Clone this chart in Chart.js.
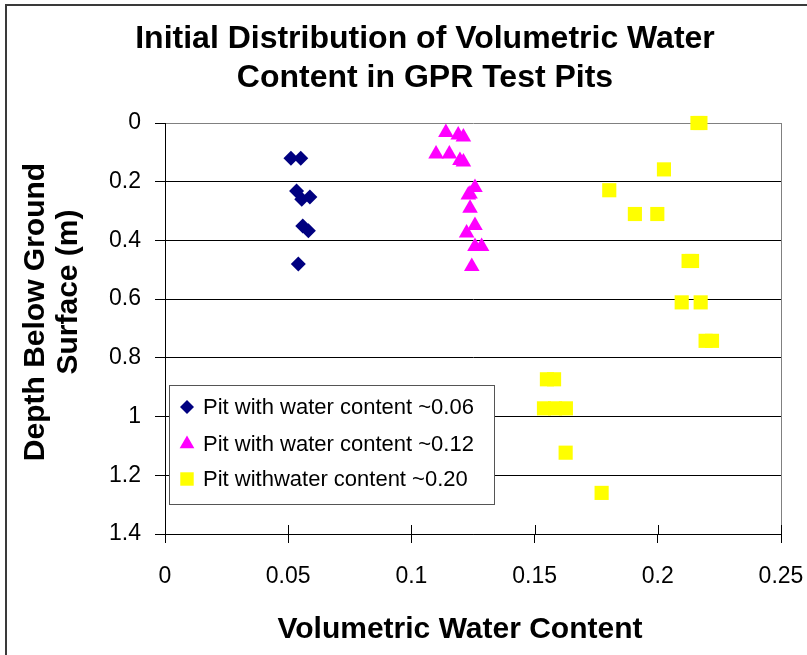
<!DOCTYPE html>
<html>
<head>
<meta charset="utf-8">
<script src="https://cdn.jsdelivr.net/npm/chart.js@4/dist/chart.umd.min.js"></script>
<style>
  html, body { margin: 0; padding: 0; background: #fff; }
  canvas { display: block; }
</style>
</head>
<body>
<canvas id="chart" width="807" height="655"></canvas>
<script>
// values
const seriesNames = ['Pit with water content ~0.06', 'Pit with water content ~0.12', 'Pit withwater content ~0.20'];

const pit006Water = [0.0511, 0.0551, 0.0534, 0.0588, 0.0555, 0.0559, 0.0582, 0.0541];
const pit006Depth = [0.12, 0.12, 0.232, 0.252, 0.26, 0.351, 0.367, 0.48];

const pit012Water = [0.1140, 0.1190, 0.1211, 0.1100, 0.1154, 0.1197, 0.1211, 0.1258, 0.1238, 0.1231, 0.1238, 0.1258, 0.1224, 0.1258, 0.1285, 0.1245];
const pit012Depth = [0.032, 0.041, 0.048, 0.106, 0.106, 0.128, 0.133, 0.220, 0.242, 0.245, 0.290, 0.349, 0.375, 0.421, 0.421, 0.489];

const pit020Water = [0.2161, 0.2173, 0.2025, 0.1803, 0.1907, 0.1998, 0.2125, 0.2139, 0.2097, 0.2174, 0.2194, 0.2220, 0.1550, 0.1579, 0.1538, 0.1583, 0.1627, 0.1626, 0.1772];
const pit020Depth = [0, 0, 0.158, 0.229, 0.310, 0.310, 0.470, 0.470, 0.611, 0.611, 0.742, 0.742, 0.873, 0.873, 0.972, 0.972, 0.972, 1.123, 1.260];

const xTicks = [0, 0.05, 0.1, 0.15, 0.2, 0.25];
const xTickLabels = ['0', '0.05', '0.1', '0.15', '0.2', '0.25'];
const yTicks = [0, 0.2, 0.4, 0.6, 0.8, 1, 1.2, 1.4];
const yTickLabels = ['0', '0.2', '0.4', '0.6', '0.8', '1', '1.2', '1.4'];

const FONT = '"Liberation Sans", Arial, sans-serif';

function pts(xs, ys) {
  return xs.map((x, i) => ({ x: x, y: ys[i] }));
}

// frame, titles, inner tick marks and the boxed legend
const decor = {
  id: 'decor',
  afterDraw(chart) {
    const c = chart.ctx;
    const area = chart.chartArea;
    const xs = chart.scales.x;
    c.save();

    // outer frame
    c.strokeStyle = '#3a3a3a';
    c.lineWidth = 2;
    c.strokeRect(6, 5, 900, 900);

    // tick marks crossing into the plot
    c.strokeStyle = '#000';
    c.lineWidth = 1;
    xTicks.forEach(v => {
      const px = Math.round(xs.getPixelForValue(v)) + 0.5;
      c.beginPath();
      c.moveTo(px, area.bottom - 9);
      c.lineTo(px, area.bottom);
      c.stroke();
    });

    // titles
    c.fillStyle = '#000';
    c.textAlign = 'center';
    c.textBaseline = 'middle';
    c.font = 'bold 32px ' + FONT;
    c.fillText('Initial Distribution of Volumetric Water', 425, 39);
    c.fillText('Content in GPR Test Pits', 425, 78);

    c.font = 'bold 30px ' + FONT;
    c.fillText('Volumetric Water Content', 460, 630);

    c.save();
    c.translate(36, 0);
    c.rotate(-Math.PI / 2);
    c.fillText('Depth Below Ground', -312, 0);
    c.fillText('Surface (m)', -292, 33);
    c.restore();

    // legend box
    const lx = 169, ly = 385, lw = 325, lh = 119;
    c.fillStyle = '#fff';
    c.fillRect(lx, ly, lw, lh);
    c.strokeStyle = '#555';
    c.lineWidth = 1;
    c.strokeRect(lx + 0.5, ly + 0.5, lw, lh);

    const rowY = [407, 444, 479];
    const legendR = [7, 8.5, 9.5];
    c.font = '22px ' + FONT;
    c.textAlign = 'left';
    chart.data.datasets.forEach((ds, i) => {
      c.fillStyle = ds.backgroundColor;
      c.strokeStyle = ds.backgroundColor;
      Chart.helpers.drawPoint(c, {
        pointStyle: ds.pointStyle,
        radius: legendR[i],
        borderWidth: 0,
        rotation: 0
      }, 187, rowY[i]);
      c.fillStyle = '#000';
      c.fillText(ds.label, 203, rowY[i] + 1);
    });

    c.restore();
  }
};

new Chart(document.getElementById('chart'), {
  type: 'scatter',
  data: {
    datasets: [
      {
        label: seriesNames[0],
        data: pts(pit006Water, pit006Depth),
        pointStyle: 'rectRot',
        pointRadius: 7.5,
        backgroundColor: '#000080',
        borderColor: '#000080',
        borderWidth: 0,
        clip: false
      },
      {
        label: seriesNames[1],
        data: pts(pit012Water, pit012Depth),
        pointStyle: 'triangle',
        pointRadius: 9,
        backgroundColor: '#ff00ff',
        borderColor: '#ff00ff',
        borderWidth: 0,
        clip: false
      },
      {
        label: seriesNames[2],
        data: pts(pit020Water, pit020Depth),
        pointStyle: 'rect',
        pointRadius: 10,
        backgroundColor: '#ffff00',
        borderColor: '#ffff00',
        borderWidth: 0,
        clip: false
      }
    ]
  },
  options: {
    responsive: false,
    animation: false,
    devicePixelRatio: 1,
    layout: { padding: { top: 123, right: 26, left: 0, bottom: 0 } },
    plugins: {
      legend: { display: false },
      title: { display: false },
      tooltip: { enabled: false }
    },
    scales: {
      x: {
        type: 'linear',
        min: 0,
        max: 0.25,
        afterBuildTicks: s => { s.ticks = xTicks.map(v => ({ value: v })); },
        afterFit: s => { s.height = 121; s.paddingLeft = 0; s.paddingRight = 0; },
        ticks: {
          color: '#000',
          font: { family: FONT, size: 23 },
          padding: 20,
          maxRotation: 0,
          callback: (v, i) => xTickLabels[i]
        },
        grid: {
          drawOnChartArea: true,
          color: c => (c.tick && c.tick.value === 0.25 ? '#808080' : 'rgba(0,0,0,0)'),
          tickColor: '#000',
          tickLength: 9
        },
        border: { display: true, color: '#000', width: 1 }
      },
      y: {
        type: 'linear',
        reverse: true,
        min: 0,
        max: 1.4,
        afterBuildTicks: s => { s.ticks = yTicks.map(v => ({ value: v })); },
        afterFit: s => { s.width = 165; s.paddingTop = 0; s.paddingBottom = 0; },
        ticks: {
          color: '#000',
          font: { family: FONT, size: 23 },
          padding: 14,
          callback: (v, i) => yTickLabels[i]
        },
        grid: {
          color: c => (c.tick && c.tick.value === 0 ? '#808080' : '#000'),
          tickColor: '#000',
          tickLength: 10
        },
        border: { display: true, color: '#000', width: 1 }
      }
    }
  },
  plugins: [decor]
});
</script>
</body>
</html>
